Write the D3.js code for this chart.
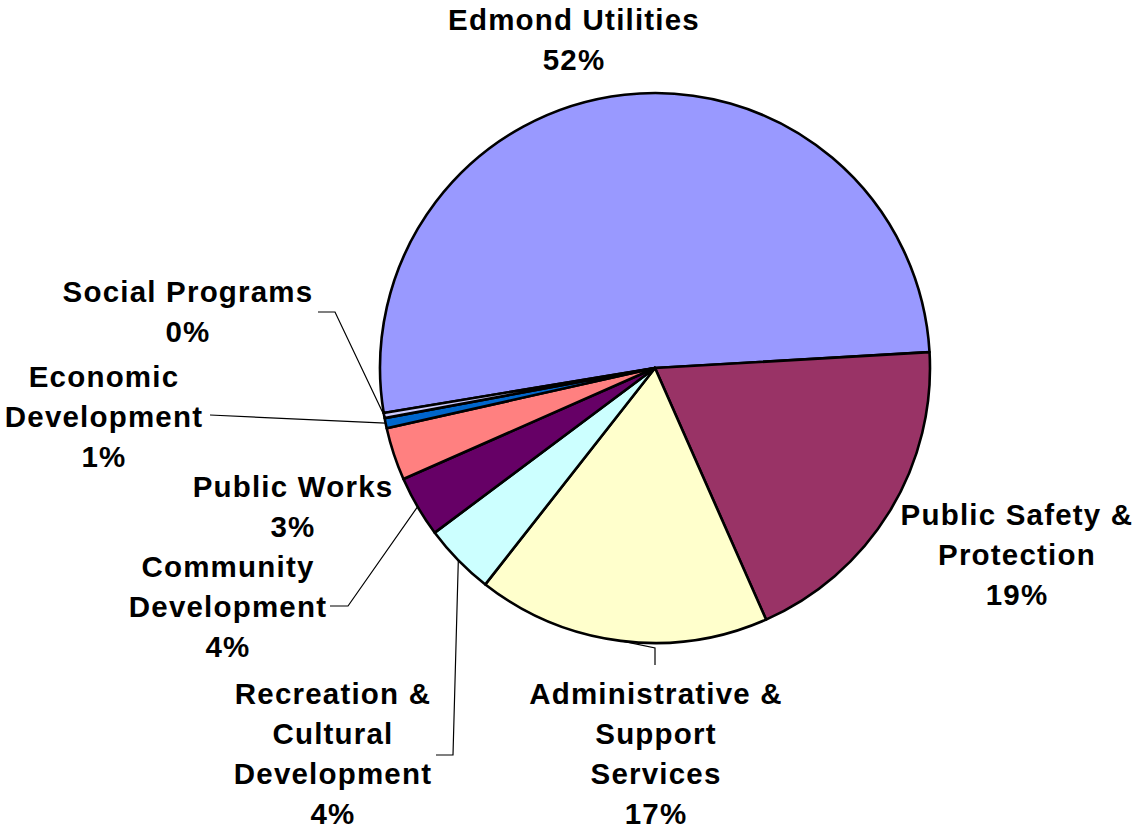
<!DOCTYPE html>
<html>
<head>
<meta charset="utf-8">
<script src="https://cdn.jsdelivr.net/npm/d3@7"></script>
<style>
  body { margin: 0; background: #fff; }
  text { font-family: "Liberation Sans", Arial, sans-serif; font-weight: bold; font-size: 29.5px; letter-spacing: 1.2px; fill: #000; }
</style>
</head>
<body>
<svg id="chart" width="1134" height="829"></svg>
<script>
// budget shares (percent)
var categories = ["Edmond Utilities", "Public Safety & Protection", "Administrative & Support Services",
  "Recreation & Cultural Development", "Community Development", "Public Works",
  "Economic Development", "Social Programs"];
var values = [51.7, 19.3, 17.2, 4.2, 3.6, 3.1, 0.6, 0.3];
var labelLines = [
  ["Edmond Utilities"],
  ["Public Safety &", "Protection"],
  ["Administrative &", "Support", "Services"],
  ["Recreation &", "Cultural", "Development"],
  ["Community", "Development"],
  ["Public Works"],
  ["Economic", "Development"],
  ["Social Programs"]
];
var colors = ["#9999FF", "#993366", "#FFFFCC", "#CCFFFF", "#660066", "#FF8080", "#0066CC", "#CCCCFF"];

// layout: label centre (first line) and leader elbows
var labelPos = [[574, 20], [1017, 515], [656, 694], [333, 694], [228, 567], [293, 487], [104, 377], [188, 292]];
var leaders = [null, null, [[655, 648], [655, 665]], [[453, 755], [436, 755]],
  [[348, 606], [330, 606]], null, [[210, 415]], [[335, 312], [318, 312]]];

var cx = 655, cy = 368, radius = 275, lineH = 40;
var deg = Math.PI / 180;
var startA = 86.7 * deg - values[0] / 100 * 2 * Math.PI;

var svg = d3.select("#chart");
var g = svg.append("g").attr("transform", "translate(" + cx + "," + cy + ")");

var pie = d3.pie().sort(null).value(function (d) { return d; })
  .startAngle(startA).endAngle(startA + 2 * Math.PI);
var arc = d3.arc().innerRadius(0).outerRadius(radius);
var arcs = pie(values);

g.selectAll("path.slice")
  .data(arcs)
  .enter().append("path")
  .attr("class", "slice")
  .attr("d", arc)
  .attr("fill", function (d, i) { return colors[i]; })
  .attr("stroke", "#000")
  .attr("stroke-width", 2.6)
  .attr("stroke-linejoin", "round");

// leader lines
arcs.forEach(function (d, i) {
  if (!leaders[i]) return;
  var a = (d.startAngle + d.endAngle) / 2;
  var pts = [[cx + radius * Math.sin(a), cy - radius * Math.cos(a)]].concat(leaders[i]);
  svg.append("path")
    .attr("d", d3.line()(pts))
    .attr("fill", "none")
    .attr("stroke", "#000")
    .attr("stroke-width", 1.2);
});

var fmt = function (v) { return Math.round(v) + "%"; };

arcs.forEach(function (d, i) {
  var lines = labelLines[i].concat([fmt(values[i])]);
  var t = svg.append("text")
    .attr("text-anchor", "middle")
    .attr("x", labelPos[i][0])
    .attr("y", labelPos[i][1]);
  lines.forEach(function (s, k) {
    t.append("tspan")
      .attr("x", labelPos[i][0])
      .attr("dy", k === 0 ? "0.35em" : lineH)
      .text(s);
  });
});
</script>
</body>
</html>
